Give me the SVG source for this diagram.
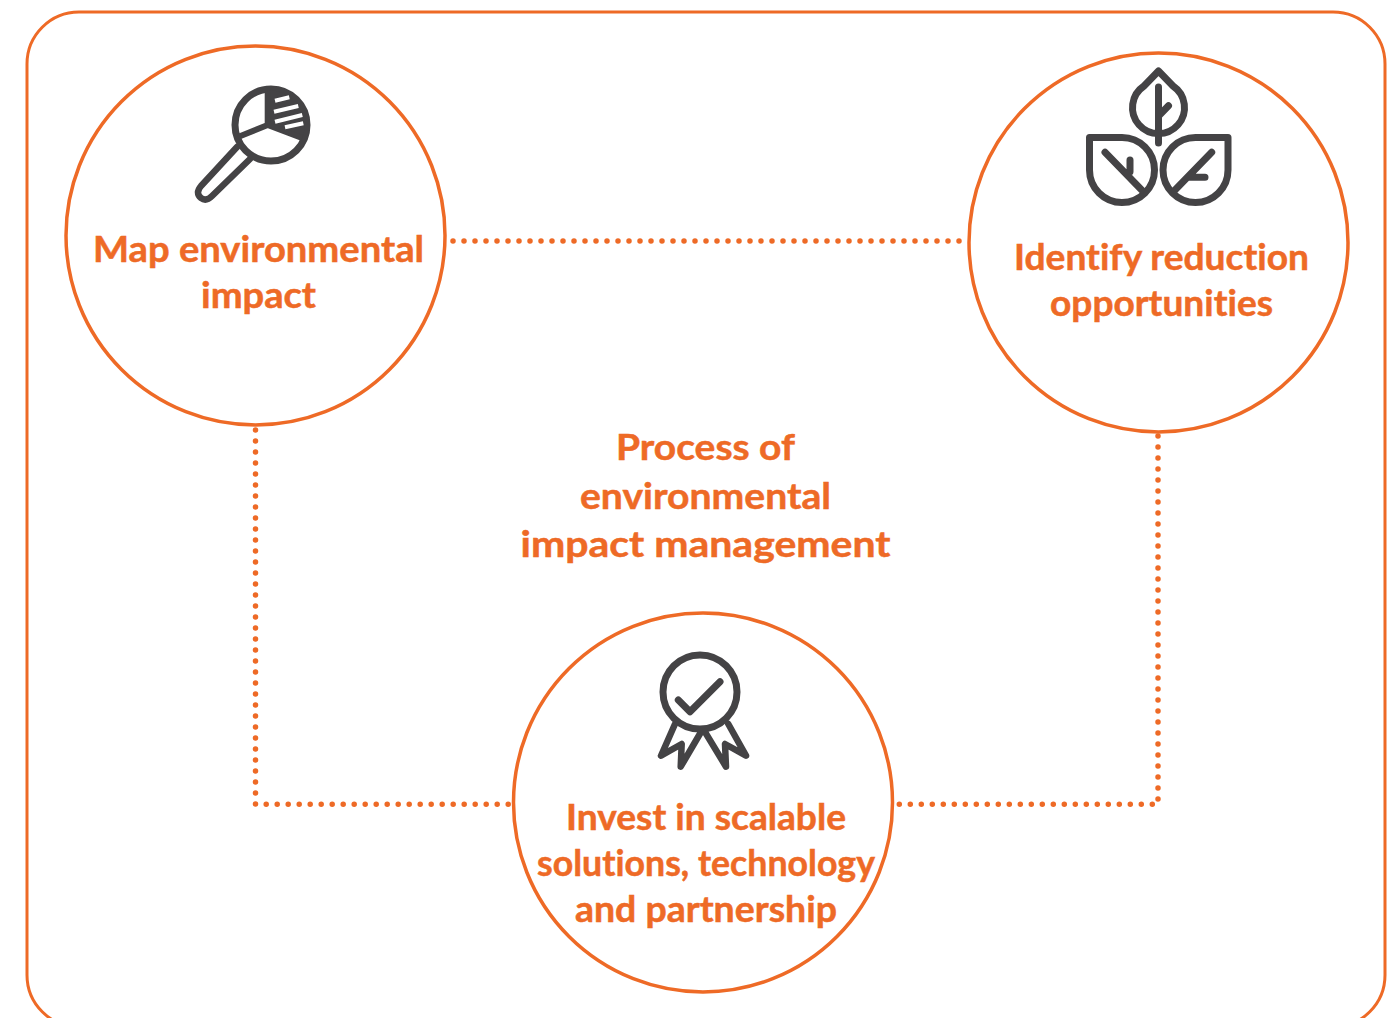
<svg xmlns="http://www.w3.org/2000/svg" width="1396" height="1018" viewBox="0 0 1396 1018">
<style>
.frame,.ring{fill:#fff;stroke:#ee6a26;stroke-width:3.500}
.frame{fill:none;stroke-width:3}
.dot{fill:none;stroke:#ee6a26;stroke-width:5.500;stroke-linecap:round;stroke-dasharray:0 11}
.ic{fill:none;stroke:#444345;stroke-width:7;stroke-linecap:round;stroke-linejoin:round}
text{font-family:"Lato","Liberation Sans",sans-serif;font-weight:700;font-size:36px;fill:#ee6a26;stroke:#ee6a26;stroke-width:0.500;font-variant-ligatures:none}
.h{font-size:37px}
</style>
<rect class="frame" x="27" y="12" width="1358" height="1015" rx="52"/>
<g id="connectors">
<path class="dot" d="M453 241H962"/>
<path class="dot" d="M255.500 430V804.300H512"/>
<path class="dot" d="M1158 436V804.300H893"/>
</g>
<g id="node-map">
<circle class="ring" cx="255.500" cy="235.500" r="189.500"/>
<path class="ic" style="stroke-width:6.500" d="M237 147L201 186Q195 193 201 198Q206 202 212 196L250 159"/>
<circle class="ic" cx="271" cy="125" r="36"/>
<path fill="#444345" d="M267.700 90A36 36 0 0 1 302 139L268 126Z"/>
<path class="ic" style="stroke-width:6;stroke-linecap:butt" d="M267.700 92V125L238 137M267.700 125L302 138"/>
<path fill="none" stroke="#fff" stroke-width="4" d="M275 100.700L289.300 97.300M274 111.700L298.300 106M275 121.700L302.300 115M285 127.300L303.300 123.300"/>
<text x="258.500" y="262" text-anchor="middle" textLength="331" lengthAdjust="spacingAndGlyphs">Map environmental</text>
<text x="258.500" y="308" text-anchor="middle" textLength="115" lengthAdjust="spacingAndGlyphs">impact</text>
</g>
<g id="node-identify">
<circle class="ring" cx="1158.500" cy="242.500" r="189.500"/>
<path class="ic" d="M1158.500 71L1173 86A26 26 0 1 1 1144 86Z"/>
<path class="ic" d="M1158.500 87V143M1168.500 105.700L1159.500 115"/>
<path class="ic" d="M1089.500 137.500H1122A32.500 32.500 0 0 1 1122 202.500A32.500 32.500 0 0 1 1089.500 170Z"/>
<path class="ic" d="M1105 152.300L1141.700 190M1130 160V171.700"/>
<path class="ic" d="M1228 137.500H1195.500A32.500 32.500 0 0 0 1195.500 202.500A32.500 32.500 0 0 0 1228 170Z"/>
<path class="ic" d="M1211.700 152.300L1175 190M1205 177.300H1190"/>
<text x="1161.500" y="270" text-anchor="middle" textLength="295" lengthAdjust="spacingAndGlyphs">Identify reduction</text>
<text x="1161.500" y="316" text-anchor="middle" textLength="223" lengthAdjust="spacingAndGlyphs">opportunities</text>
</g>
<g id="node-invest">
<circle class="ring" cx="703" cy="802.500" r="189.500"/>
<circle class="ic" cx="700" cy="692" r="37"/>
<path class="ic" d="M678.300 700L690 711.700L720 681.700"/>
<path class="ic" style="stroke-width:6.500" d="M675 724L661 755.700L681.700 744L680.700 766.700L701 732M728.300 724L746 755.700L725 744L726 766.700L705 732"/>
<text x="706" y="830" text-anchor="middle" textLength="280" lengthAdjust="spacingAndGlyphs">Invest in scalable</text>
<text x="706" y="876" text-anchor="middle" textLength="338" lengthAdjust="spacingAndGlyphs">solutions, technology</text>
<text x="706" y="922" text-anchor="middle" textLength="262" lengthAdjust="spacingAndGlyphs">and partnership</text>
</g>
<g id="title">
<text class="h" x="705.500" y="460" text-anchor="middle" textLength="179" lengthAdjust="spacingAndGlyphs">Process of</text>
<text class="h" x="705.500" y="509" text-anchor="middle" textLength="251" lengthAdjust="spacingAndGlyphs">environmental</text>
<text class="h" x="705.500" y="557" text-anchor="middle" textLength="370" lengthAdjust="spacingAndGlyphs">impact management</text>
</g>
</svg>
